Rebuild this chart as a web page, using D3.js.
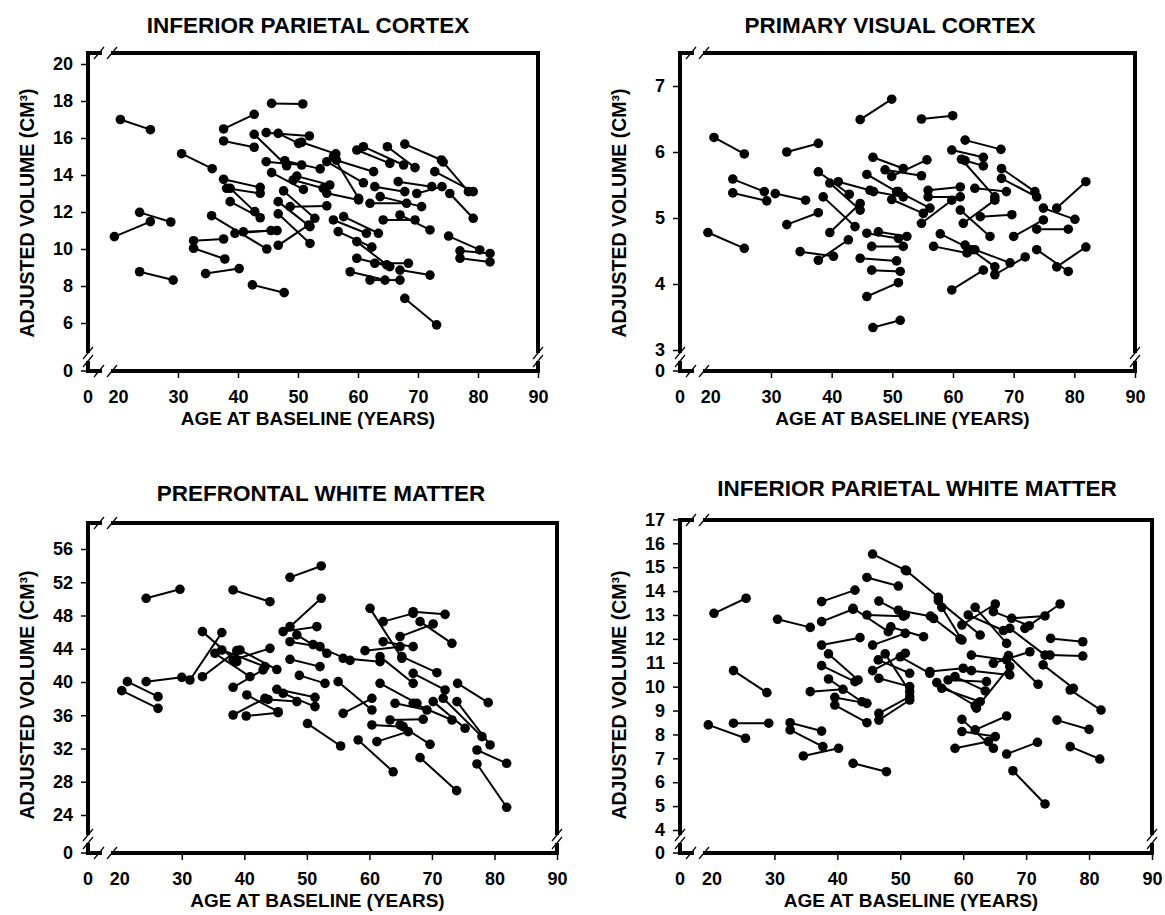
<!DOCTYPE html>
<html>
<head>
<meta charset="utf-8">
<script src="https://cdn.jsdelivr.net/npm/d3@7"></script>
<style>
  body { margin: 0; background: #fff; }
  text { font-family: "Liberation Sans", Arial, sans-serif; font-weight: bold; fill: #000; }
</style>
</head>
<body>
<div id="chart"></div>
<script>
// each row: [age at baseline, volume at baseline, age at follow-up, volume at follow-up]
const parietalCortex = [
  [20.4,17.0,25.4,16.45],[19.4,10.67,25.4,11.48],[23.6,11.98,28.8,11.46],[23.6,8.77,29.2,8.32],
  [30.6,15.15,35.7,14.34],[32.6,10.45,37.6,10.54],[32.6,10.04,37.8,9.46],[34.6,8.67,40.2,8.94],
  [35.6,11.8,44.8,10.0],[37.6,16.49,42.7,17.28],[37.6,15.84,42.7,15.5],[37.6,13.77,43.7,13.33],
  [38.1,13.28,43.7,13.01],[38.7,13.28,42.8,12.02],[38.7,12.56,43.7,11.69],[42.4,8.06,47.7,7.64],
  [45.6,17.87,50.8,17.84],[42.7,16.2,48.1,14.5],[44.7,16.29,51.9,16.11],[46.7,16.25,50.1,15.71],
  [50.6,15.77,56.3,15.14],[44.7,14.72,50.6,14.54],[47.8,14.77,53.7,14.33],[45.6,14.13,50.9,13.22],
  [49.8,13.94,55.3,13.46],[47.6,13.14,52.8,11.66],[46.7,12.56,52.0,11.21],[48.7,12.29,54.8,12.33],
  [46.7,11.9,52.0,10.3],[46.7,10.2,51.8,11.3],[39.5,10.85,45.5,11.0],[40.9,10.93,46.5,11.0],
  [49.2,13.73,54.2,13.28],[59.8,15.35,65.3,14.63],[60.9,15.53,67.6,14.54],[64.9,15.53,69.5,14.4],
  [67.8,15.67,73.9,14.81],[74.2,14.7,78.4,13.1],[72.8,14.18,79.2,13.1],[56.4,14.8,62.6,14.18],
  [54.8,14.72,60.9,13.58],[55.9,14.99,60.1,12.74],[62.8,13.37,67.8,13.1],[54.8,13.01,60.1,12.65],
  [66.7,13.64,72.3,13.37],[69.8,13.0,74.0,13.37],[75.3,13.0,79.2,11.66],[62.0,12.47,68.1,12.47],
  [63.7,12.83,70.6,12.29],[64.2,11.57,69.5,11.57],[67.0,11.84,72.0,11.03],[57.6,11.75,63.4,10.85],
  [56.7,10.94,62.3,10.1],[55.9,11.57,61.4,10.85],[59.8,10.4,64.8,9.14],[59.8,9.5,65.3,9.05],
  [58.7,8.77,64.5,8.32],[62.0,8.32,67.0,8.32],[62.8,9.23,68.4,9.23],[67.0,8.86,72.0,8.59],
  [67.8,7.33,73.1,5.9],[75.1,10.7,80.3,9.95],[77.0,9.9,82.0,9.76],[77.0,9.5,82.0,9.3]
];

const visualCortex = [
  [20.6,6.22,25.6,5.97],[32.6,6.0,37.8,6.13],[44.7,6.49,49.9,6.8],[23.7,5.59,28.9,5.4],
  [23.7,5.38,29.3,5.26],[30.7,5.37,35.7,5.27],[19.6,4.78,25.6,4.54],[32.6,4.9,37.8,5.08],
  [34.8,4.49,40.3,4.42],[37.8,4.36,42.75,4.67],[37.8,5.7,42.9,5.36],[38.6,5.32,43.85,4.87],
  [39.7,4.78,44.7,5.22],[41.1,5.55,46.3,5.42],[39.7,5.53,44.7,5.12],[45.8,4.77,51.0,4.69],
  [47.7,4.79,52.4,4.72],[46.6,4.57,51.8,4.57],[44.7,4.39,50.7,4.35],[46.6,4.21,51.3,4.19],
  [45.8,3.81,51.0,4.02],[46.8,3.34,51.3,3.45],[46.8,5.92,51.8,5.75],[45.8,5.66,50.7,5.4],
  [46.9,5.4,51.8,5.32],[54.8,6.5,59.95,6.55],[62.0,6.18,67.9,6.04],[59.8,6.03,65.0,5.92],
  [62.0,5.87,65.0,5.79],[61.4,5.89,66.9,5.32],[68.0,5.75,73.5,5.4],[68.0,5.6,73.8,5.32],
  [77.1,5.15,81.9,5.55],[48.8,5.73,54.8,5.64],[49.9,5.63,55.7,5.88],[55.9,5.42,61.2,5.47],
  [55.9,5.32,61.2,5.32],[54.8,4.92,59.8,5.27],[63.6,5.45,68.8,5.4],[61.2,5.12,66.1,4.72],
  [61.7,4.92,66.9,5.27],[64.5,5.02,69.7,5.05],[70.0,4.72,74.9,4.97],[73.8,4.83,79.0,4.83],
  [74.9,5.15,80.1,4.98],[57.9,4.76,63.1,4.52],[56.8,4.57,62.3,4.47],[62.0,4.59,66.9,4.26],
  [63.6,4.52,69.4,4.32],[66.9,4.14,71.9,4.41],[59.8,3.91,65.0,4.21],[73.8,4.52,79.0,4.19],
  [77.1,4.26,81.9,4.56],[49.9,5.28,55.1,5.07],[51.0,5.4,56.2,5.15]
];

const prefrontalWhite = [
  [20.4,38.96,26.2,36.83],[21.3,40.04,26.2,38.24],[24.3,40.04,30.0,40.56],[24.3,50.07,29.7,51.15],
  [31.3,40.24,36.4,45.94],[33.3,46.06,38.8,42.45],[33.3,40.64,38.8,43.77],[38.2,51.07,44.1,49.66],
  [47.3,52.59,52.3,53.96],[47.3,46.66,52.3,50.07],[46.2,46.06,51.6,46.66],[48.4,45.66,53.2,43.45],
  [47.3,44.85,52.1,44.25],[47.3,42.73,52.1,41.85],[38.2,42.65,44.1,44.05],[35.3,43.45,40.9,40.64],
  [36.4,43.85,43.3,41.85],[39.3,43.85,45.2,41.5],[38.2,39.36,43.0,41.45],[40.4,38.44,45.4,36.43],
  [38.2,36.03,43.3,38.04],[40.3,35.91,45.4,36.31],[43.8,37.9,48.4,37.64],[45.2,39.12,51.3,38.16],
  [46.2,38.64,51.3,37.04],[50.1,35.0,55.4,32.3],[48.8,40.8,52.9,39.84],[60.1,48.86,65.2,42.85],
  [62.2,47.26,67.0,48.26],[67.0,48.46,72.1,48.14],[68.1,47.26,73.2,44.65],[64.9,45.46,70.2,46.98],
  [62.2,44.85,67.0,44.25],[59.3,43.77,64.9,44.25],[55.8,42.85,61.7,42.45],[51.0,44.5,56.9,42.6],
  [61.7,43.05,67.0,39.84],[65.2,43.05,70.8,41.12],[67.0,41.04,72.1,39.04],[61.7,39.84,67.6,37.44],
  [55.8,36.23,60.4,38.04],[55.0,40.04,60.4,36.63],[60.4,34.83,65.4,34.63],[63.3,35.43,68.6,35.51],
  [61.2,32.83,66.2,34.03],[64.9,34.83,69.7,32.5],[58.2,33.03,63.8,29.2],[68.1,30.9,73.95,26.93],
  [74.1,39.84,79.0,37.52],[77.2,31.82,81.95,30.22],[77.2,30.14,81.95,24.93],[70.2,37.64,75.3,34.43],
  [74.0,37.64,79.3,32.43],[71.8,38.04,78.0,33.43],[64.1,37.44,69.2,36.63],[67.0,37.44,73.2,35.43]
];

const parietalWhite = [
  [20.4,13.07,25.5,13.7],[19.5,8.4,25.4,7.84],[23.5,8.47,29.1,8.47],[23.5,10.67,28.8,9.75],
  [30.5,12.82,35.7,12.48],[32.5,8.49,37.5,8.14],[32.5,8.19,37.7,7.49],[34.6,7.1,40.2,7.42],
  [35.7,9.79,40.9,9.89],[37.5,13.56,42.8,14.04],[37.5,12.72,42.5,13.24],[37.5,11.74,43.6,12.05],
  [38.6,11.37,43.3,10.28],[37.5,10.88,42.8,10.21],[38.6,10.32,43.9,9.37],[39.6,9.55,44.7,9.3],
  [39.6,9.23,44.7,8.49],[42.5,6.79,47.8,6.44],[45.6,15.55,50.8,14.88],[44.7,14.57,49.7,14.21],
  [46.6,13.58,50.8,13.0],[42.5,13.28,48.1,12.3],[44.7,13.0,50.5,12.95],[45.6,11.74,50.8,12.23],
  [46.5,11.12,51.5,10.56],[45.6,10.67,50.8,11.4],[46.6,10.35,51.5,10.0],[47.6,11.37,51.5,9.79],
  [46.6,8.88,51.5,9.58],[46.6,8.6,51.5,9.44],[51.0,14.85,56.05,13.74],[56.6,13.32,59.8,11.95],
  [49.7,13.2,54.8,12.95],[48.5,12.5,53.7,12.09],[55.3,12.85,59.5,12.0],[59.8,12.58,65.1,13.46],
  [61.9,13.32,66.9,11.81],[67.7,12.86,73.0,12.96],[69.8,12.44,75.4,13.46],[60.8,13.0,66.4,12.35],
  [67.4,12.44,73.0,11.32],[73.9,12.02,79.0,11.88],[73.8,11.32,79.0,11.28],[72.7,10.91,77.5,9.93],
  [77.0,9.86,81.9,9.02],[74.9,8.6,80.0,8.21],[77.0,7.49,81.7,6.97],[67.9,6.48,73.0,5.09],
  [66.9,7.18,71.8,7.67],[58.7,7.42,64.0,7.7],[59.8,8.63,64.8,7.42],[59.8,8.12,65.1,7.91],
  [61.9,8.19,66.9,8.77],[61.3,11.32,66.9,11.12],[61.3,10.67,67.4,10.49],[64.8,10.98,70.6,11.46],
  [67.2,11.3,71.9,10.1],[62.1,9.1,67.4,10.84],[55.8,10.17,61.9,9.2],[56.6,9.93,62.7,9.37],
  [57.6,10.28,63.7,10.21],[58.7,10.42,63.5,9.82],[54.7,10.63,60.0,10.77],[50.0,11.25,54.7,10.56],
  [56.05,13.6,62.7,12.16],[64.8,13.14,70.5,12.55]
];

const titles = ["INFERIOR PARIETAL CORTEX", "PRIMARY VISUAL CORTEX", "PREFRONTAL WHITE MATTER", "INFERIOR PARIETAL WHITE MATTER"];
const ageTicks = [20, 30, 40, 50, 60, 70, 80, 90];
const yTicks1 = [6, 8, 10, 12, 14, 16, 18, 20];
const yTicks2 = [3, 4, 5, 6, 7];
const yTicks3 = [24, 28, 32, 36, 40, 44, 48, 52, 56];
const yTicks4 = [4, 5, 6, 7, 8, 9, 10, 11, 12, 13, 14, 15, 16, 17];

// layout of the four panels (pixels)
const panels = [
  { data: parietalCortex, ticks: yTicks1, title: titles[0], left: 88, right: 538, top: 53, base: 371,
    yDom: [6, 20], yRng: [323, 64], titleX: 308, titleY: 33 },
  { data: visualCortex, ticks: yTicks2, title: titles[1], left: 680, right: 1135, top: 53, base: 371,
    yDom: [3, 7], yRng: [350, 86], titleX: 890, titleY: 33 },
  { data: prefrontalWhite, ticks: yTicks3, title: titles[2], left: 88, right: 557, top: 523, base: 853,
    yDom: [24, 56], yRng: [815, 549], titleX: 321, titleY: 501 },
  { data: parietalWhite, ticks: yTicks4, title: titles[3], left: 680, right: 1152, top: 520, base: 853,
    yDom: [4, 16], yRng: [830, 543.3], titleX: 917, titleY: 496 }
];

const svg = d3.select("#chart").append("svg")
  .attr("width", 1165).attr("height", 915);

function slash(g, cx, cy) {
  g.append("line")
    .attr("x1", cx - 5).attr("y1", cy + 6)
    .attr("x2", cx + 5).attr("y2", cy - 6)
    .attr("stroke", "#000").attr("stroke-width", 1.2);
}

function drawPanel(p) {
  const x = d3.scaleLinear().domain([15, 90]).range([p.left, p.right]);
  const y = d3.scaleLinear().domain(p.yDom).range(p.yRng);
  const g = svg.append("g");

  // y ticks
  const ya = g.append("g").attr("transform", `translate(${p.left},0)`)
    .call(d3.axisLeft(y).tickValues(p.ticks).tickFormat(d3.format("d"))
      .tickSizeInner(7).tickSizeOuter(0).tickPadding(8));
  ya.select(".domain").remove();
  ya.selectAll("line").attr("stroke-width", 1.5);
  ya.selectAll("text").style("font-size", "18px");

  // x ticks
  const xa = g.append("g").attr("transform", `translate(0,${p.base})`)
    .call(d3.axisBottom(x).tickValues(ageTicks).tickFormat(d3.format("d"))
      .tickSizeInner(7).tickSizeOuter(0).tickPadding(12));
  xa.select(".domain").remove();
  xa.selectAll("line").attr("stroke-width", 1.5)
    .attr("opacity", (d) => (d === 20 ? 0 : 1));
  xa.selectAll("text").style("font-size", "18px");

  // the "0" labels at the broken origin
  g.append("line").attr("x1", p.left - 7).attr("x2", p.left)
    .attr("y1", p.base).attr("y2", p.base).attr("stroke", "#000").attr("stroke-width", 1.5);
  g.append("text").attr("x", p.left - 15).attr("y", p.base).attr("dy", "0.35em")
    .attr("text-anchor", "end").style("font-size", "18px").text("0");
  g.append("text").attr("x", p.left).attr("y", p.base + 19).attr("dy", "0.71em")
    .attr("text-anchor", "middle").style("font-size", "18px").text("0");

  // frame with axis breaks
  const frame = [
    [p.left, p.top, p.left + 12, p.top], [p.left + 25, p.top, p.right, p.top],
    [p.left, p.base, p.left + 12, p.base], [p.left + 25, p.base, p.right, p.base],
    [p.left, p.top, p.left, p.base - 20], [p.left, p.base - 8, p.left, p.base],
    [p.right, p.top, p.right, p.base - 20], [p.right, p.base - 8, p.right, p.base]
  ];
  g.selectAll("line.frame").data(frame).join("line").attr("class", "frame")
    .attr("x1", (d) => d[0]).attr("y1", (d) => d[1])
    .attr("x2", (d) => d[2]).attr("y2", (d) => d[3])
    .attr("stroke", "#000").attr("stroke-width", 4).attr("stroke-linecap", "square");
  slash(g, p.left + 11, p.top); slash(g, p.left + 24, p.top);
  slash(g, p.left + 11, p.base); slash(g, p.left + 24, p.base);
  slash(g, p.left, p.base - 18); slash(g, p.left, p.base - 10);
  slash(g, p.right, p.base - 18); slash(g, p.right, p.base - 10);

  // subject trajectories
  g.selectAll("line.seg").data(p.data).join("line").attr("class", "seg")
    .attr("x1", (d) => x(d[0])).attr("y1", (d) => y(d[1]))
    .attr("x2", (d) => x(d[2])).attr("y2", (d) => y(d[3]))
    .attr("stroke", "#000").attr("stroke-width", 2);

  const pts = p.data.flatMap((d) => [[d[0], d[1]], [d[2], d[3]]]);
  g.selectAll("circle").data(pts).join("circle")
    .attr("cx", (d) => x(d[0])).attr("cy", (d) => y(d[1]))
    .attr("r", 4.8).attr("fill", "#000");

  // titles
  g.append("text").attr("x", p.titleX).attr("y", p.titleY)
    .attr("text-anchor", "middle").style("font-size", "22.5px").text(p.title);
  g.append("text").attr("x", (p.left + p.right) / 2 - 5).attr("y", p.base + 54)
    .attr("text-anchor", "middle").style("font-size", "19px").text("AGE AT BASELINE (YEARS)");
  g.append("text")
    .attr("transform", `translate(${p.left - 54},${p.base - 158}) rotate(-90)`)
    .attr("text-anchor", "middle").style("font-size", "19.5px").text("ADJUSTED VOLUME (CM³)");
}

panels.forEach(drawPanel);
</script>
</body>
</html>
